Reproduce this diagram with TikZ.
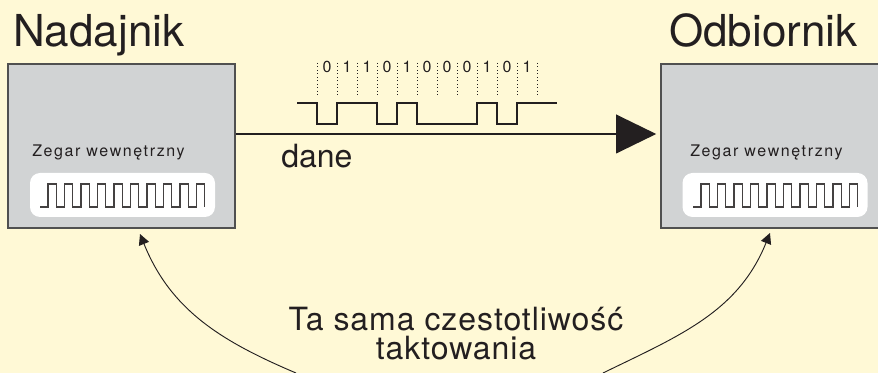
\documentclass[tikz,border=0pt]{standalone}
\usepackage{fontspec}
\setmainfont{TeX Gyre Heros}
\newfontfamily\spacedfont[LetterSpace=10]{TeX Gyre Heros}
\newfontfamily\widefont[LetterSpace=3]{TeX Gyre Heros}
\usetikzlibrary{arrows.meta}

\definecolor{paper}{RGB}{255,249,214}
\definecolor{boxgray}{RGB}{209,211,212}
\definecolor{ink}{RGB}{35,31,32}
\definecolor{rim}{RGB}{80,80,80}

\begin{document}
\begin{tikzpicture}[x=0.75pt, y=-0.75pt,
  unit/.style={draw=rim, line width=1.2pt, fill=boxgray, inner sep=0pt, minimum height=123pt},
  panel/.style={fill=white, rounded corners=7.5pt, inner sep=0pt, minimum width=138.75pt, minimum height=33pt},
  title/.style={font=\fontsize{33}{36}\selectfont, text=ink, inner sep=0pt, anchor=base west},
  small/.style={font=\spacedfont\fontsize{12}{14}\selectfont, text=ink, inner sep=0pt, anchor=base west},
  bit/.style={font=\fontsize{12}{14}\selectfont, text=ink, inner sep=0pt},
  wave/.style={draw=ink, line width=0.9pt},
  tick/.style={draw=ink, dotted, line width=0.6pt},
  clk/.style={draw=ink!85, line width=0.8pt},
  sync/.style={draw=ink, line width=0.7pt, -{Triangle[length=8pt,width=8pt]}}]

\clip (0,0) rectangle (878,373);
\fill[paper] (0,0) rectangle (878,373);

%\draw[help lines] (0,0) grid[step=50] (878,373);

% the two devices
\node[unit, minimum width=170.25pt] (nad) at (121.5,146) {};
\node[unit, minimum width=165.75pt] (odb) at (771.5,146) {};
\node[title] (tNad) at (13,47) {Nadajnik};
\node[title] (tOdb) at (669,47) {Odbiornik};

% internal clocks
\node[panel] (clkN) at (122.5,195) {};
\node[panel] (clkO) at (775,195) {};
\node[small] (zegN) at (32,157) {Zegar wewnętrzny};
\node[small] (zegO) at (690,157) {Zegar wewnętrzny};
\foreach \s in {40,693}{% one pulse train per clock
    \draw[clk] (\s,207) -- ++(8,0)
        \foreach \k in {1,...,9}{ -- ++(0,-23) -- ++(8.25,0) -- ++(0,23) -- ++(8.25,0)}
        -- ++(0,-23) -- ++(8.25,0) -- ++(0,23);}

% data line
\coordinate (lvl) at (0,134);
\draw[draw=ink, line width=1.1pt, -{Triangle[length=30pt,width=29pt]}, shorten >=3pt]
    (nad.east |- lvl) -- (odb.west |- lvl);
\node[font=\fontsize{24}{28}\selectfont, text=ink, inner sep=0pt, anchor=base west] (dane) at (281,168) {dane};

% bit stream
\foreach \i in {0,...,11}% bit borders
    \draw[tick] (317+20*\i,63) -- (317+20*\i,97);
\foreach \b [count=\i from 0] in {0,1,1,0,1,0,0,0,1,0,1}
    \node[bit] (b\i) at (327+20*\i,67) {\b};
\draw[wave] (297,103) -- (317,103) -- (317,124) -- (337,124) -- (337,103)
    -- (377,103) -- (377,124) -- (397,124) -- (397,103) -- (417,103)
    -- (417,124) -- (477,124) -- (477,103) -- (497,103) -- (497,124)
    -- (517,124) -- (517,103) -- (557,103);

% same clock rate
\node[font=\widefont\fontsize{24}{22}\selectfont, text=ink, inner sep=0pt, align=center, anchor=base] (freq) at (456,360)
    {Ta sama czestotliwość\\taktowania};
\coordinate (lfoot) at (296,373);
\coordinate (rfoot) at (603,373);
\coordinate (ltip) at (140,234);
\coordinate (rtip) at (770,233);
\draw[sync] (lfoot) to[out=157, in=-68] (ltip);
\draw[sync] (rfoot) to[out=26, in=-112] (rtip);

\end{tikzpicture}
\end{document}
